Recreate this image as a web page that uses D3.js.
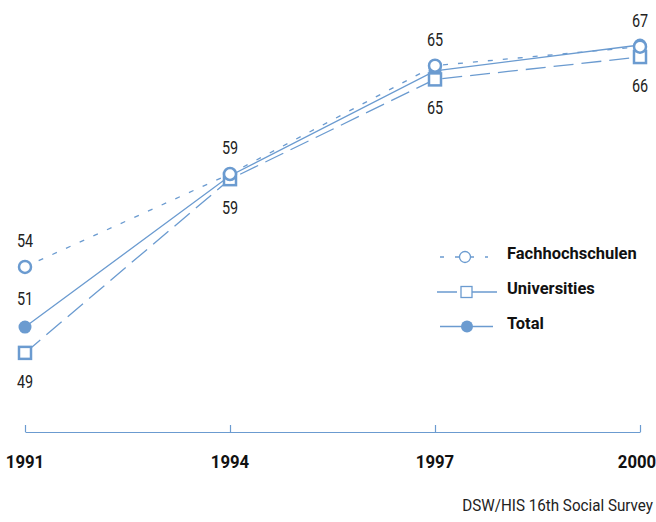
<!DOCTYPE html>
<html>
<head>
<meta charset="utf-8">
<script src="https://cdn.jsdelivr.net/npm/d3@7"></script>
<style>
    body { margin: 0; background: #fff; }
    svg text { font-family: "Roboto", "Liberation Sans", sans-serif; }
</style>
</head>
<body>
<svg id="chart" width="656" height="522"></svg>
<script>
(() => {
    // data
    const years = [1991, 1994, 1997, 2000];
    const fachValues = [54.0, 59.4, 65.7, 66.8];
    const uniValues = [49.0, 59.1, 64.9, 66.2];
    const totalValues = [50.5, 59.3, 65.4, 66.9];
    const fachLabels = ["54", "59", "65", "67"];
    const uniLabels = ["49", "59", "65", "66"];
    const totalLabels = ["51", "", "", ""];
    const legendNames = ["Fachhochschulen", "Universities", "Total"];

    const color = "#6b9bd0";
    const svg = d3.select("svg#chart");
    const width = +svg.attr("width");
    const axisY = 432;

    const x = d3.scalePoint().domain(years).range([25, 640]);
    const y = d3.scaleLinear().domain([44.4, 69.4]).range([axisY, 2]);

    // condensed look: squeeze text horizontally around its anchor
    const squeeze = (sel, fx, fy, k) => sel
        .attr("transform", (d, i) => `translate(${fx(d, i)}, ${fy(d, i)}) scale(${k}, 1)`);

    // x axis
    const axis = svg.append("g")
        .attr("transform", `translate(0, ${axisY})`)
        .call(d3.axisTop(x).tickSize(7).tickSizeOuter(0).tickFormat(""));
    axis.select(".domain").attr("stroke", color).attr("stroke-width", 1.2);
    axis.selectAll(".tick line").attr("stroke", color).attr("stroke-width", 1.2);

    svg.append("g").selectAll("text")
        .data(years)
        .join("text")
        .call(squeeze, d => Math.min(x(d), width - 19), () => 468, 0.88)
        .attr("text-anchor", "middle")
        .attr("font-size", 19)
        .attr("font-weight", "bold")
        .attr("fill", "#111")
        .text(d => d);

    const line = d3.line().x((d, i) => x(years[i])).y(d => y(d));

    const series = [
        { name: "uni", values: uniValues, dash: "20,8" },
        { name: "fach", values: fachValues, dash: "5,10" },
        { name: "total", values: totalValues, dash: null }
    ];

    series.forEach(s => {
        svg.append("path")
            .datum(s.values)
            .attr("d", line)
            .attr("fill", "none")
            .attr("stroke", color)
            .attr("stroke-width", 1.3)
            .attr("stroke-dasharray", s.dash);
    });

    // markers: total first, then the open markers on top
    svg.append("g").selectAll("circle")
        .data(totalValues)
        .join("circle")
        .attr("cx", (d, i) => x(years[i]))
        .attr("cy", d => y(d))
        .attr("r", 6.5)
        .attr("fill", color);

    svg.append("g").selectAll("rect")
        .data(uniValues)
        .join("rect")
        .attr("x", (d, i) => x(years[i]) - 6)
        .attr("y", d => y(d) - 6)
        .attr("width", 12)
        .attr("height", 12)
        .attr("fill", "#fff")
        .attr("stroke", color)
        .attr("stroke-width", 2.5);

    svg.append("g").selectAll("circle")
        .data(fachValues)
        .join("circle")
        .attr("cx", (d, i) => x(years[i]))
        .attr("cy", d => y(d))
        .attr("r", 6)
        .attr("fill", "#fff")
        .attr("stroke", color)
        .attr("stroke-width", 2.5);

    // value labels
    const labelStyle = sel => sel
        .attr("text-anchor", "middle")
        .attr("font-size", 18)
        .attr("fill", "#222");

    svg.append("g").selectAll("text")
        .data(fachValues)
        .join("text")
        .call(squeeze, (d, i) => x(years[i]), d => y(d) - 20, 0.8)
        .call(labelStyle)
        .text((d, i) => fachLabels[i]);

    svg.append("g").selectAll("text")
        .data(uniValues)
        .join("text")
        .call(squeeze, (d, i) => x(years[i]), d => y(d) + 35, 0.8)
        .call(labelStyle)
        .text((d, i) => uniLabels[i]);

    svg.append("g").selectAll("text")
        .data(totalValues)
        .join("text")
        .call(squeeze, (d, i) => x(years[i]), d => y(d) - 22, 0.8)
        .call(labelStyle)
        .text((d, i) => totalLabels[i]);

    // legend
    const legend = svg.append("g").attr("transform", "translate(437, 257)");
    const rowH = 35;
    legendNames.forEach((name, i) => {
        const g = legend.append("g").attr("transform", `translate(0, ${i * rowH})`);
        if (i === 0) {
            g.append("line").attr("x1", 3).attr("x2", 51)
                .attr("stroke", color).attr("stroke-width", 1.3)
                .attr("stroke-dasharray", "4,11");
            g.append("circle").attr("cx", 28).attr("r", 5.5)
                .attr("fill", "#fff").attr("stroke", color).attr("stroke-width", 1.3);
        } else if (i === 1) {
            g.append("line").attr("x1", 0).attr("x2", 60)
                .attr("stroke", color).attr("stroke-width", 1.3)
                .attr("stroke-dasharray", "20,8,32");
            g.append("rect").attr("x", 24).attr("y", -5.5).attr("width", 11).attr("height", 11)
                .attr("fill", "#fff").attr("stroke", color).attr("stroke-width", 1.3);
        } else {
            g.attr("transform", `translate(0, ${i * rowH - 0.5})`);
            g.append("line").attr("x1", 3).attr("x2", 56)
                .attr("stroke", color).attr("stroke-width", 1.3);
            g.append("circle").attr("cx", 30).attr("r", 6)
                .attr("fill", color);
        }
        g.append("text")
            .attr("transform", "translate(70, 2) scale(0.97, 1)")
            .attr("font-size", 17)
            .attr("font-weight", "bold")
            .attr("fill", "#111")
            .text(name);
    });

    // source
    svg.append("text")
        .attr("transform", `translate(${width - 3}, 511) scale(0.95, 1)`)
        .attr("text-anchor", "end")
        .attr("font-size", 16)
        .attr("fill", "#222")
        .text("DSW/HIS 16th Social Survey");
})();
</script>
</body>
</html>
